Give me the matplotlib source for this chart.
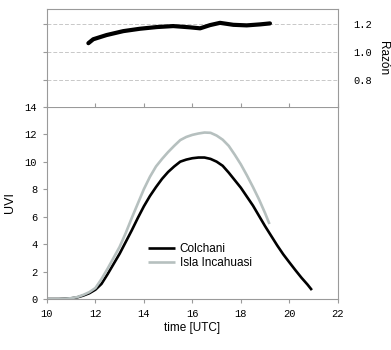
import numpy as np
import matplotlib.pyplot as plt

# UV index, Colchani
t_colchani = [10.0, 10.25, 10.5, 10.75, 11.0, 11.25, 11.5, 11.75, 12.0, 12.25, 12.5, 12.75,
              13.0, 13.25, 13.5, 13.75, 14.0, 14.25, 14.5, 14.75, 15.0, 15.25, 15.5, 15.75,
              16.0, 16.25, 16.5, 16.75, 17.0, 17.25, 17.5, 17.75, 18.0, 18.25, 18.5, 18.75,
              19.0, 19.25, 19.5, 19.75, 20.0, 20.25, 20.5, 20.75, 20.93]
uvi_colchani = [0.0, 0.0, 0.0, 0.02, 0.05, 0.12, 0.25, 0.42, 0.68, 1.1, 1.8, 2.55,
                3.3, 4.15, 5.0, 5.9, 6.75, 7.5, 8.15, 8.75, 9.25, 9.65, 10.0, 10.15,
                10.25, 10.3, 10.3, 10.2, 10.0, 9.7, 9.2, 8.65, 8.1, 7.45, 6.8, 6.05,
                5.3, 4.6, 3.9, 3.25, 2.67, 2.1, 1.55, 1.05, 0.65]

# UV index, Isla Incahuasi
t_isla = [10.0, 10.25, 10.5, 10.75, 11.0, 11.25, 11.5, 11.75, 12.0, 12.25, 12.5, 12.75,
          13.0, 13.25, 13.5, 13.75, 14.0, 14.25, 14.5, 14.75, 15.0, 15.25, 15.5, 15.75,
          16.0, 16.25, 16.5, 16.75, 17.0, 17.25, 17.5, 17.75, 18.0, 18.25, 18.5, 18.75,
          19.0, 19.18]
uvi_isla = [0.0, 0.0, 0.0, 0.02, 0.06, 0.14, 0.3, 0.5, 0.8, 1.45, 2.2, 3.0,
            3.8, 4.8, 5.9, 6.95, 8.0, 8.9, 9.65, 10.2, 10.7, 11.15, 11.57, 11.8,
            11.95, 12.05, 12.12, 12.1, 11.9, 11.6, 11.15, 10.5, 9.8, 9.0, 8.15, 7.25,
            6.25, 5.46]

# ratio Isla / Colchani
t_ratio = [11.71, 11.91, 12.46, 13.15, 13.84, 14.53, 15.21, 15.9, 16.32, 16.73,
           17.14, 17.69, 18.24, 18.79, 19.2]
ratio = [1.064, 1.092, 1.122, 1.15, 1.167, 1.179, 1.186, 1.177, 1.17, 1.193,
         1.209, 1.195, 1.191, 1.198, 1.205]

xticks = [10, 12, 14, 16, 18, 20, 22]
yticks = [0, 2, 4, 6, 8, 10, 12, 14]
rticks = [0.8, 1.0, 1.2]

mono = "Liberation Mono"
sans = "Liberation Sans"
spine_col = "#9a9a9a"

fig = plt.figure(figsize=(3.91, 3.5), dpi=100)
ax = fig.add_axes([0.120, 0.1457, 0.744, 0.5494])
ax2 = fig.add_axes([0.120, 0.695, 0.744, 0.279])

p1 = ax.plot(t_colchani, uvi_colchani, color="black", lw=1.9, solid_capstyle="butt")
p2 = ax.plot(t_isla, uvi_isla, color="#b6c0bf", lw=1.9, solid_capstyle="butt")
ax.set_xlim(10, 22)
ax.set_ylim(0, 14)
ax.set_xticks(xticks)
ax.set_yticks(yticks)
ax.tick_params(direction="out", length=3, color=spine_col, labelsize=7.5, pad=4)
for lab in ax.get_xticklabels() + ax.get_yticklabels():
    lab.set_family(mono)
for s in ax.spines.values():
    s.set_color(spine_col)
    s.set_linewidth(0.8)
ax.set_xlabel("time [UTC]", family=sans, fontsize=8.5, labelpad=2)
ax.set_ylabel("UVI", family=sans, fontsize=9, labelpad=6)
ax.legend((p1[0], p2[0]), ("Colchani", "Isla Incahuasi"), loc="lower left",
          bbox_to_anchor=(0.31, 0.1), frameon=False, handlelength=2.3,
          handletextpad=0.4, labelspacing=0.2, prop={"family": sans, "size": 8.5})

ax2.plot(t_ratio, ratio, color="black", lw=3.0, solid_capstyle="round")
ax2.set_xlim(10, 22)
ax2.set_ylim(0.611, 1.307)
ax2.set_xticks(xticks)
ax2.set_yticks(rticks)
ax2.set_xticklabels([])
ax2.tick_params(axis="x", direction="in", length=3, color=spine_col)
ax2.tick_params(axis="y", left=True, right=False, labelleft=False, labelright=True,
                direction="out", length=3, color=spine_col, labelsize=7.5, pad=8)
for lab in ax2.get_yticklabels():
    lab.set_family(mono)
ax2.yaxis.set_label_position("right")
ax2.set_ylabel("Razón", family=sans, fontsize=8.5, rotation=270, labelpad=12)
ax2.grid(axis="y", color="#c8c8c8", ls=(0, (4, 2)), lw=0.7)
for s in ax2.spines.values():
    s.set_color(spine_col)
    s.set_linewidth(0.8)
ax2.spines["bottom"].set_visible(False)

plt.savefig("out.png", dpi=100)
plt.close()
